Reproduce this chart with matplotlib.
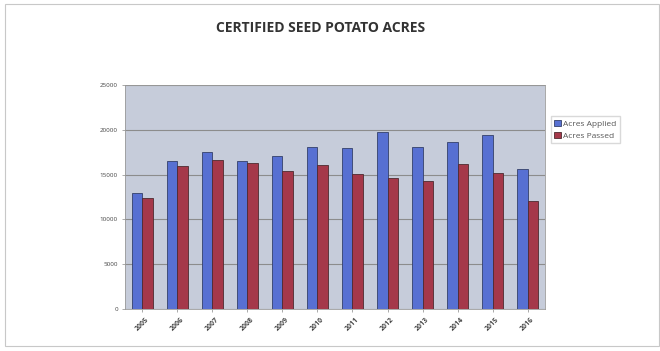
import matplotlib
matplotlib.use("Agg")
import matplotlib.pyplot as plt
from matplotlib.patches import Rectangle
import numpy as np

years = ["2005", "2006", "2007", "2008", "2009", "2010",
         "2011", "2012", "2013", "2014", "2015", "2016"]
acres_applied = [12900, 16550, 17550, 16550, 17080, 18120,
                 17930, 19790, 18120, 18600, 19420, 15620]
acres_passed = [12350, 15960, 16630, 16330, 15440, 16030,
                15070, 14660, 14320, 16180, 15140, 12050]
y_ticks = [0, 5000, 10000, 15000, 20000, 25000]

plt.rcParams["font.family"] = ["Open Sans", "DejaVu Sans"]

fig = plt.figure(figsize=(6.6, 3.51), dpi=100)
fig.patch.set_facecolor("white")

# thin outer frame of the chart area
fig.add_artist(Rectangle((0.008, 0.015), 0.99, 0.975, transform=fig.transFigure,
                         fill=False, edgecolor="#c8c8c8", linewidth=0.8))

ax = fig.add_axes([0.189, 0.12, 0.637, 0.638])
ax.set_facecolor("#c6ccda")

x = np.arange(len(years))
w = 0.3
ax.bar(x - w / 2, acres_applied, width=w, color="#5770d2",
       edgecolor="#34406a", linewidth=0.6, zorder=3, label="Acres Applied")
ax.bar(x + w / 2, acres_passed, width=w, color="#a5384a",
       edgecolor="#4e2a30", linewidth=0.6, zorder=3, label="Acres Passed")

ax.set_xlim(-0.5, len(years) - 0.5)
ax.set_ylim(0, 25000)
ax.set_yticks(y_ticks)
ax.set_yticklabels([str(v) for v in y_ticks], fontsize=4.5, color="#555555")
ax.set_xticks(x)
ax.set_xticklabels(years, rotation=45, fontsize=5, color="#444444",
                   fontweight="bold")
ax.tick_params(axis="both", length=2, width=0.5, colors="#888888",
               labelcolor="#444444", pad=3)
ax.grid(axis="y", color="#8c8c8c", linewidth=0.8, zorder=1)
for s in ax.spines.values():
    s.set_color("#9a9a9a")
    s.set_linewidth(0.6)

fig.text(0.485, 0.92, "CERTIFIED SEED POTATO ACRES", ha="center", va="center",
         fontsize=10, fontweight="bold", color="#333333")

leg = fig.legend(loc="upper left", bbox_to_anchor=(0.828, 0.68), fontsize=6,
                 frameon=True, fancybox=False, edgecolor="#d0d0d0",
                 handlelength=0.8, handleheight=0.8, handletextpad=0.3,
                 borderpad=0.4, labelspacing=0.5)
for t in leg.get_texts():
    t.set_color("#555555")

fig.savefig("out.png", dpi=100)
